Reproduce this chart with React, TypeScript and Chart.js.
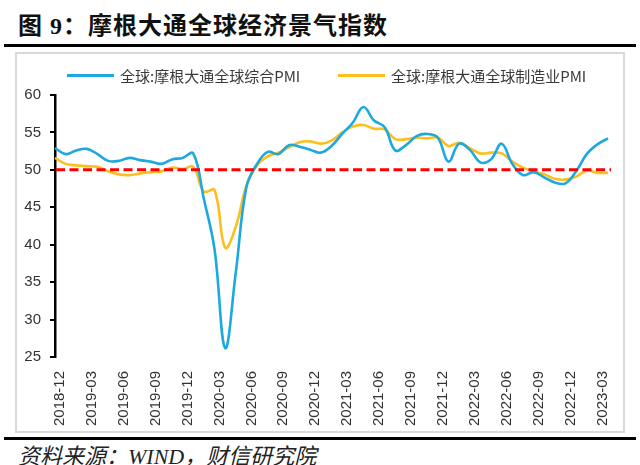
import React, { useEffect, useRef } from 'react';
import { Chart, registerables } from 'chart.js';

Chart.register(...registerables);

const months: string[] = [
  '2018-12',
  '2019-01', '2019-02', '2019-03', '2019-04', '2019-05', '2019-06', '2019-07', '2019-08', '2019-09', '2019-10', '2019-11', '2019-12',
  '2020-01', '2020-02', '2020-03', '2020-04', '2020-05', '2020-06', '2020-07', '2020-08', '2020-09', '2020-10', '2020-11', '2020-12',
  '2021-01', '2021-02', '2021-03', '2021-04', '2021-05', '2021-06', '2021-07', '2021-08', '2021-09', '2021-10', '2021-11', '2021-12',
  '2022-01', '2022-02', '2022-03', '2022-04', '2022-05', '2022-06', '2022-07', '2022-08', '2022-09', '2022-10', '2022-11', '2022-12',
  '2023-01', '2023-02', '2023-03', '2023-04',
];

const compositePMI: number[] = [
  52.9,
  52.1, 52.6, 52.8, 52.1, 51.2, 51.2, 51.6, 51.3, 51.1, 50.8, 51.4, 51.6,
  52.2, 46.1, 39.4, 26.2, 36.3, 47.7, 50.8, 52.4, 52.1, 53.3, 53.1, 52.7,
  52.3, 53.2, 54.8, 56.3, 58.4, 56.6, 55.7, 52.6, 53.3, 54.5, 54.8, 54.3,
  51.1, 53.5, 52.7, 51.0, 51.4, 53.5, 50.8, 49.3, 49.7, 49.0, 48.3, 48.2,
  49.8, 52.1, 53.4, 54.2,
];

const manufacturingPMI: number[] = [
  51.6,
  50.8, 50.6, 50.5, 50.4, 49.8, 49.4, 49.3, 49.5, 49.7, 49.8, 50.3, 50.1,
  50.4, 47.1, 47.3, 39.6, 42.4, 47.9, 50.6, 51.8, 52.3, 53.0, 53.7, 53.8,
  53.5, 53.9, 55.0, 55.8, 56.0, 55.5, 55.4, 54.1, 54.1, 54.3, 54.2, 54.3,
  53.2, 53.6, 52.9, 52.2, 52.3, 52.2, 51.1, 50.3, 49.8, 49.4, 48.8, 48.7,
  49.1, 49.9, 49.6, 49.6,
];

const seriesNames: string[] = ['全球:摩根大通全球综合PMI', '全球:摩根大通全球制造业PMI'];
const yTicks: number[] = [25, 30, 35, 40, 45, 50, 55, 60];
const referenceLevel = 50;

const BLUE = '#1ea8e0';
const GOLD = '#fcbf1e';

const refLinePlugin = {
  id: 'refLine',
  afterDatasetsDraw(chart: any) {
    const { ctx, chartArea, scales } = chart;
    const y = scales.y.getPixelForValue(referenceLevel);
    ctx.save();
    ctx.strokeStyle = '#ff0000';
    ctx.lineWidth = 3;
    ctx.setLineDash([9, 4.5]);
    ctx.beginPath();
    ctx.moveTo(chartArea.left + 1, y);
    ctx.lineTo(chartArea.right + 3, y);
    ctx.stroke();
    ctx.restore();
  },
};

function LegendItem({ color, text, left }: { color: string; text: string; left: number }) {
  return (
    <div style={{ position: 'absolute', left, top: 64, height: 22, display: 'flex', alignItems: 'center' }}>
      <div style={{ width: 47, height: 3, background: color, marginRight: 6 }} />
      <span style={{ font: "15px 'Noto Sans CJK SC', sans-serif", color: '#3a3a3a', whiteSpace: 'nowrap' }}>{text}</span>
    </div>
  );
}

export default function App() {
  const canvasRef = useRef<HTMLCanvasElement | null>(null);

  useEffect(() => {
    const canvas = canvasRef.current;
    if (!canvas) return;
    const chart = new Chart(canvas, {
      type: 'line',
      data: {
        labels: months,
        datasets: [
          {
            label: seriesNames[0],
            data: compositePMI,
            borderColor: BLUE,
            backgroundColor: BLUE,
            borderWidth: 2.6,
            pointRadius: 0,
            tension: 0.4,
          },
          {
            label: seriesNames[1],
            data: manufacturingPMI,
            borderColor: GOLD,
            backgroundColor: GOLD,
            borderWidth: 2.6,
            pointRadius: 0,
            tension: 0.4,
          },
        ],
      },
      options: {
        animation: false,
        responsive: false,
        maintainAspectRatio: false,
        layout: { padding: { top: 43, right: 17, left: 0, bottom: 0 } },
        plugins: {
          legend: { display: false },
          tooltip: { enabled: false },
        },
        scales: {
          x: {
            type: 'category',
            offset: false,
            grid: { display: false },
            border: { display: false },
            ticks: {
              autoSkip: false,
              minRotation: 90,
              maxRotation: 90,
              padding: 6,
              labelOffset: 5,
              color: '#333',
              font: { family: "'Liberation Sans', sans-serif", size: 15 },
              callback: (_v: any, i: number) => (i % 3 === 0 ? months[i] : null),
            },
            afterFit: (scale: any) => {
              scale.height = 76;
            },
          },
          y: {
            min: 25,
            max: 60,
            afterBuildTicks: (scale: any) => {
              scale.ticks = yTicks.map((v) => ({ value: v }));
            },
            grid: {
              drawOnChartArea: false,
              drawTicks: true,
              tickLength: 5,
              color: '#000',
              lineWidth: 2,
            },
            border: { display: true, color: '#000', width: 2.5 },
            ticks: {
              padding: 9,
              color: '#333',
              font: { family: "'Liberation Sans', sans-serif", size: 15 },
            },
            afterFit: (scale: any) => {
              scale.width = 40;
            },
          },
        },
      },
      plugins: [refLinePlugin],
    });
    return () => chart.destroy();
  }, []);

  return (
    <div style={{ position: 'fixed', left: 0, top: 0, width: 640, height: 465, background: '#fff', overflow: 'hidden' }}>
      <div
        style={{
          position: 'absolute',
          left: 18,
          top: 6,
          font: "bold 24px 'Liberation Serif', 'Noto Sans CJK SC', serif",
          color: '#111',
          whiteSpace: 'nowrap',
          letterSpacing: 1,
        }}
      >
        图 9：摩根大通全球经济景气指数
      </div>
      <div style={{ position: 'absolute', left: 4, top: 44, width: 632, height: 3, background: '#000' }} />
      <div
        style={{
          position: 'absolute',
          left: 15,
          top: 52,
          width: 606,
          height: 377,
          border: '2px solid #d9d9d9',
        }}
      />
      <canvas ref={canvasRef} width={610} height={381} style={{ position: 'absolute', left: 15, top: 52, width: 610, height: 381 }} />
      <LegendItem color={BLUE} text={seriesNames[0]} left={67} />
      <LegendItem color={GOLD} text={seriesNames[1]} left={338} />
      <div style={{ position: 'absolute', left: 4, top: 437, width: 632, height: 3, background: '#000' }} />
      <div
        style={{
          position: 'absolute',
          left: 18,
          top: 438,
          font: "italic 22px 'Liberation Serif', 'Noto Sans CJK SC', serif",
          color: '#222',
          whiteSpace: 'nowrap',
        }}
      >
        资料来源：WIND，财信研究院
      </div>
    </div>
  );
}
